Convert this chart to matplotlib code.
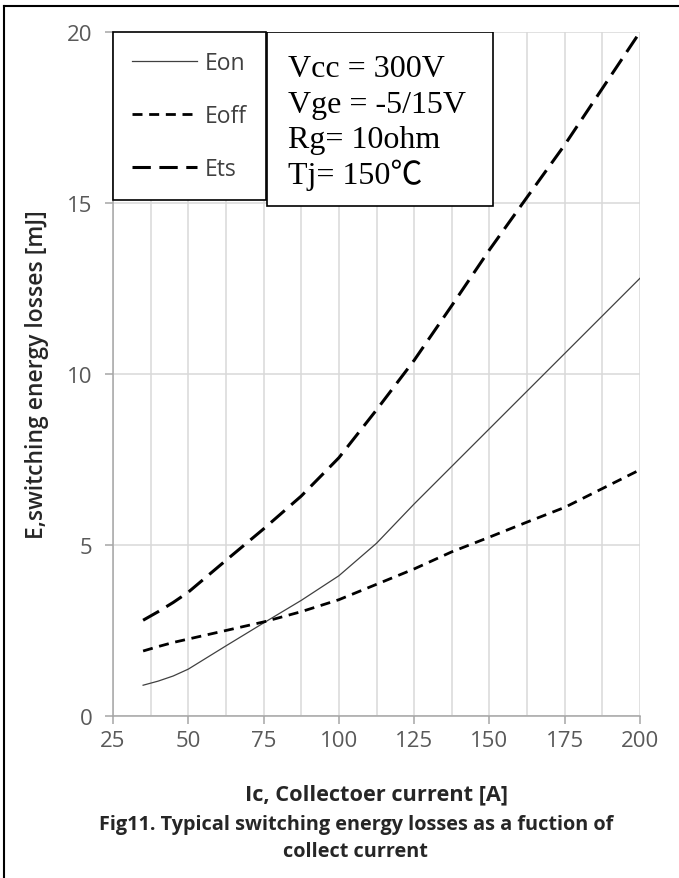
import matplotlib
matplotlib.use("Agg")
import matplotlib.pyplot as plt
from matplotlib.ticker import MultipleLocator
from matplotlib.lines import Line2D
from matplotlib.patches import Rectangle

# collector current [A] and switching energies [mJ]
ic = [35, 40, 45, 50, 62.5, 75, 87.5, 100, 112.5, 125, 137.5, 150, 162.5, 175, 187.5, 200]
eon = [0.90, 1.02, 1.17, 1.37, 2.05, 2.72, 3.38, 4.10, 5.05, 6.20, 7.30, 8.40, 9.50, 10.60, 11.70, 12.80]
eoff = [1.90, 2.03, 2.15, 2.25, 2.50, 2.75, 3.05, 3.40, 3.85, 4.30, 4.80, 5.23, 5.67, 6.10, 6.65, 7.20]
ets = [2.80, 3.05, 3.32, 3.62, 4.55, 5.47, 6.43, 7.55, 8.95, 10.40, 12.00, 13.63, 15.17, 16.70, 18.35, 20.00]

conditions = ["Vcc = 300V", "Vge = -5/15V", "Rg= 10ohm", "Tj= 150\u2103"]

sans = ["Open Sans", "DejaVu Sans"]
serif = ["Liberation Serif", "Noto Sans CJK SC", "DejaVu Sans"]
plt.rcParams["font.family"] = sans

fig = plt.figure(figsize=(6.79, 8.79), dpi=100)
ax = fig.add_axes([0.1664, 0.1843, 0.7762, 0.7782])

ax.plot(ic, eon, color="#404040", lw=0.9, label="Eon")
ax.plot(ic, eoff, color="black", lw=2.0, dashes=(3.6, 2.4), label="Eoff")
ax.plot(ic, ets, color="black", lw=2.2, dashes=(6.0, 2.8), label="Ets")

ax.set_xlim(25, 200)
ax.set_ylim(0, 20)
ax.xaxis.set_major_locator(MultipleLocator(25))
ax.xaxis.set_minor_locator(MultipleLocator(12.5))
ax.yaxis.set_major_locator(MultipleLocator(5))
ax.grid(True, which="both", axis="x", color="#d9d9d9", lw=1.1)
ax.grid(True, which="major", axis="y", color="#d9d9d9", lw=1.1)
ax.set_axisbelow(True)

for side in ["top", "right"]:
    ax.spines[side].set_visible(False)
for side in ["left", "bottom"]:
    ax.spines[side].set_color("#a6a6a6")
    ax.spines[side].set_linewidth(1.1)

ax.tick_params(which="major", length=6, width=1.1, color="#a6a6a6",
               labelsize=16, labelcolor="#595959")
ax.tick_params(axis="x", pad=4)
ax.tick_params(axis="y", pad=9)
ax.tick_params(which="minor", length=0)

ax.set_xlabel("Ic, Collectoer current [A]", fontsize=15.7, fontweight="bold", color="#262626")
ax.xaxis.set_label_coords(0.5, -0.098)
ax.set_ylabel("E,switching energy losses [mJ]", fontsize=16.5, fontweight="semibold", color="#262626")
ax.yaxis.set_label_coords(-0.122, 0.5)

leg = ax.legend(loc="upper left", bbox_to_anchor=(0.0, 1.0), borderaxespad=0.0,
                fontsize=16.5, handlelength=2.8, handletextpad=0.35, labelspacing=1.25,
                borderpad=0.85, fancybox=False, framealpha=1, edgecolor="black")
leg.get_frame().set_linewidth(1.2)
for t in leg.get_texts():
    t.set_color("#404040")

# test conditions box
ax.add_patch(Rectangle((0.292, 0.746), 0.429, 0.254, transform=ax.transAxes,
                       facecolor="white", edgecolor="black", lw=1.2, zorder=5))
for i, s in enumerate(conditions):
    ax.text(0.332, 0.946 - i * 0.0515, s, transform=ax.transAxes, fontsize=23,
            family=serif, va="center", ha="left", color="black", zorder=6)

fig.text(0.524, 1 - 825 / 879, "Fig11. Typical switching energy losses as a fuction of",
         ha="center", va="center", fontsize=14.3, fontweight="bold", color="#262626")
fig.text(0.524, 1 - 852 / 879, "collect current",
         ha="center", va="center", fontsize=14.3, fontweight="bold", color="#262626")

# page border on the top and left edges
fig.add_artist(Line2D([4 / 679, 4 / 679], [0, 1 - 7 / 879], color="black", lw=1.5,
                      transform=fig.transFigure))
fig.add_artist(Line2D([4 / 679, 1], [1 - 7 / 879, 1 - 7 / 879], color="black", lw=1.5,
                      transform=fig.transFigure))

fig.savefig("out.png", dpi=100, facecolor="white")
